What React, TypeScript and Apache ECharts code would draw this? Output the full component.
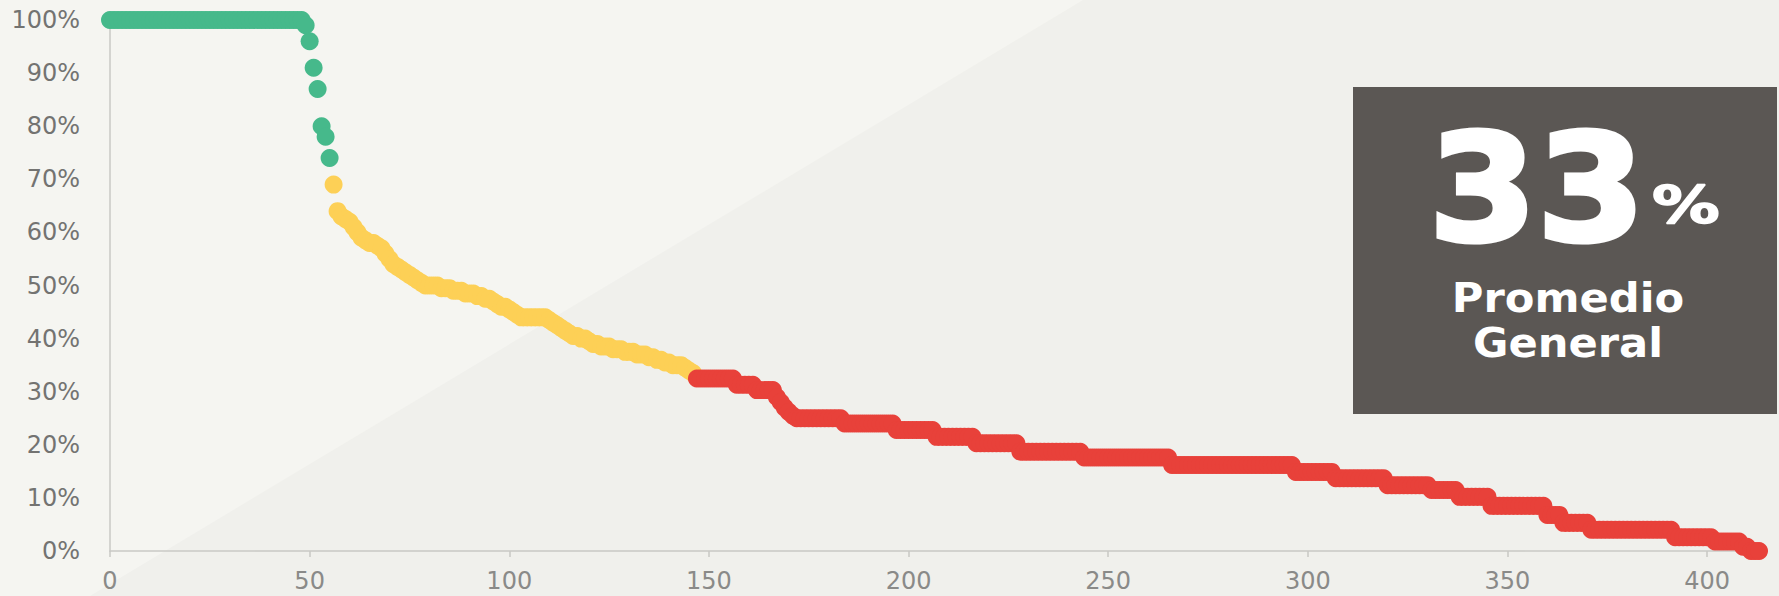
import React, { useEffect, useRef } from "react";
import * as echarts from "echarts";

// ---- Data ----
const xTicks = [0, 50, 100, 150, 200, 250, 300, 350, 400];
const averageValue = "33";
const averageUnit = "%";
const averageTitle = ["Promedio", "General"];

// ranks 0..55 (green)
const greenValues = [
  100, 100, 100, 100, 100, 100, 100, 100, 100, 100,
  100, 100, 100, 100, 100, 100, 100, 100, 100, 100,
  100, 100, 100, 100, 100, 100, 100, 100, 100, 100,
  100, 100, 100, 100, 100, 100, 100, 100, 100, 100,
  100, 100, 100, 100, 100, 100, 100, 100, 100,
  99, 96, 91, 87, 80, 78, 74,
];

// ranks 56..146 (yellow)
const yellowValues = [
  69, 64, 63, 62.5, 62, 61, 60, 59, 58.5, 58,
  58, 57.5, 57, 56, 55, 54, 53.5, 53, 52.5, 52,
  51.5, 51, 50.5, 50, 50, 50, 50, 49.5, 49.5, 49.5,
  49, 49, 49, 48.5, 48.5, 48.5, 48, 48, 47.5, 47.5,
  47, 46.5, 46, 46, 45.5, 45, 44.5, 44, 44, 44,
  44, 44, 44, 44, 43.5, 43, 42.5, 42, 41.5, 41,
  40.5, 40.5, 40, 40, 39.5, 39, 39, 38.5, 38.5, 38.5,
  38, 38, 38, 37.5, 37.5, 37.5, 37, 37, 37, 36.5,
  36.5, 36, 36, 35.5, 35.5, 35, 35, 35, 34.5, 34,
  33.5,
];

// ranks 147..413 (red)
const redValues = [
  32.5, 32.5, 32.5, 32.5, 32.5, 32.5, 32.5, 32.5, 32.5, 32.5,
  31.3, 31.3, 31.3, 31.3, 31.3,
  30.3, 30.3, 30.3, 30.3, 30.3,
  29, 28, 27, 26.2, 25.5,
  25, 25, 25, 25, 25, 25, 25, 25, 25, 25, 25, 25,
  24, 24, 24, 24, 24, 24, 24, 24, 24, 24, 24, 24, 24,
  22.8, 22.8, 22.8, 22.8, 22.8, 22.8, 22.8, 22.8, 22.8, 22.8,
  21.5, 21.5, 21.5, 21.5, 21.5, 21.5, 21.5, 21.5, 21.5, 21.5,
  20.3, 20.3, 20.3, 20.3, 20.3, 20.3, 20.3, 20.3, 20.3, 20.3, 20.3,
  18.7, 18.7, 18.7, 18.7, 18.7, 18.7, 18.7, 18.7, 18.7, 18.7, 18.7, 18.7, 18.7, 18.7, 18.7, 18.7,
  17.6, 17.6, 17.6, 17.6, 17.6, 17.6, 17.6, 17.6, 17.6, 17.6, 17.6,
  17.6, 17.6, 17.6, 17.6, 17.6, 17.6, 17.6, 17.6, 17.6, 17.6, 17.6,
  16.2, 16.2, 16.2, 16.2, 16.2, 16.2, 16.2, 16.2, 16.2, 16.2,
  16.2, 16.2, 16.2, 16.2, 16.2, 16.2, 16.2, 16.2, 16.2, 16.2,
  16.2, 16.2, 16.2, 16.2, 16.2, 16.2, 16.2, 16.2, 16.2, 16.2, 16.2,
  14.9, 14.9, 14.9, 14.9, 14.9, 14.9, 14.9, 14.9, 14.9, 14.9,
  13.7, 13.7, 13.7, 13.7, 13.7, 13.7, 13.7, 13.7, 13.7, 13.7, 13.7, 13.7, 13.7,
  12.4, 12.4, 12.4, 12.4, 12.4, 12.4, 12.4, 12.4, 12.4, 12.4, 12.4,
  11.5, 11.5, 11.5, 11.5, 11.5, 11.5, 11.5,
  10.2, 10.2, 10.2, 10.2, 10.2, 10.2, 10.2, 10.2,
  8.5, 8.5, 8.5, 8.5, 8.5, 8.5, 8.5, 8.5, 8.5, 8.5, 8.5, 8.5, 8.5, 8.5,
  6.8, 6.8, 6.8, 6.8,
  5.3, 5.3, 5.3, 5.3, 5.3, 5.3, 5.3,
  4, 4, 4, 4, 4, 4, 4, 4, 4, 4, 4, 4, 4, 4, 4, 4, 4, 4, 4, 4, 4,
  2.6, 2.6, 2.6, 2.6, 2.6, 2.6, 2.6, 2.6, 2.6, 2.6,
  1.8, 1.8, 1.8, 1.8, 1.8, 1.8, 1.8,
  0.8, 0.8,
  0, 0, 0,
];

const seriesColors = { green: "#46b98b", yellow: "#fdd056", red: "#e8413a" };

function toPoints(values: number[], startRank: number) {
  return values.map((v, k) => [startRank + k, v]);
}

const W = 1779;
const H = 596;
const FONT = "DejaVu Sans";

export default function App() {
  const ref = useRef<HTMLDivElement>(null);

  useEffect(() => {
    if (!ref.current) return;
    const chart = echarts.init(ref.current, undefined, { renderer: "svg" });

    const greenStart = 0;
    const yellowStart = greenStart + greenValues.length;
    const redStart = yellowStart + yellowValues.length;

    const scatter = (name: string, values: number[], start: number, color: string) => ({
      name,
      type: "scatter",
      data: toPoints(values, start),
      symbol: "circle",
      symbolSize: 18,
      itemStyle: { color, opacity: 1 },
      silent: true,
      z: 5,
    });

    chart.setOption({
      animation: false,
      backgroundColor: "#f5f5f1",
      grid: {
        left: 110,
        right: 12,
        top: 20,
        bottom: 45,
        containLabel: false,
        outerBoundsMode: "none",
      },
      xAxis: {
        type: "value",
        min: 0,
        max: 415,
        interval: 50,
        splitLine: { show: false },
        axisLine: { show: true, lineStyle: { color: "#c9c9c5", width: 1.5 } },
        axisTick: {
          show: true,
          length: 6,
          customValues: xTicks,
          lineStyle: { color: "#c9c9c5", width: 1.5 },
        },
        axisLabel: {
          customValues: xTicks,
          fontSize: 24,
          color: "#8a8a88",
          margin: 18,
          fontFamily: FONT,
        },
      },
      yAxis: {
        type: "value",
        min: 0,
        max: 100,
        interval: 10,
        splitLine: { show: false },
        axisLine: { show: true, lineStyle: { color: "#c9c9c5", width: 1.5 } },
        axisTick: { show: false },
        axisLabel: {
          formatter: "{value}%",
          fontSize: 24,
          color: "#737371",
          margin: 30,
          fontFamily: FONT,
        },
      },
      graphic: [
        {
          type: "polygon",
          z: -100,
          silent: true,
          shape: { points: [[90, H], [1083, 0], [W, 0], [W, H]] },
          style: { fill: "#f0f0ec" },
        },
        {
          type: "rect",
          z: 100,
          silent: true,
          shape: { x: 1353, y: 87, width: 424, height: 327 },
          style: { fill: "#5b5754" },
        },
        {
          type: "text",
          z: 101,
          silent: true,
          x: 1645,
          y: 189,
          scaleX: 1.05,
          style: {
            text: averageValue,
            fill: "#ffffff",
            stroke: "#ffffff",
            lineWidth: 5,
            fontFamily: FONT,
            fontWeight: "bold",
            fontSize: 148,
            align: "right",
            verticalAlign: "middle",
          },
        },
        {
          type: "text",
          z: 101,
          silent: true,
          x: 1652,
          y: 205,
          scaleX: 1.3,
          style: {
            text: averageUnit,
            fill: "#ffffff",
            stroke: "#ffffff",
            lineWidth: 1.5,
            fontFamily: FONT,
            fontWeight: "bold",
            fontSize: 52,
            align: "left",
            verticalAlign: "middle",
          },
        },
        {
          type: "text",
          z: 101,
          silent: true,
          x: 1568,
          y: 298,
          scaleX: 1.08,
          style: {
            text: averageTitle[0],
            fill: "#ffffff",
            fontFamily: FONT,
            fontWeight: "bold",
            fontSize: 40,
            align: "center",
            verticalAlign: "middle",
          },
        },
        {
          type: "text",
          z: 101,
          silent: true,
          x: 1568,
          y: 343,
          scaleX: 1.08,
          style: {
            text: averageTitle[1],
            fill: "#ffffff",
            fontFamily: FONT,
            fontWeight: "bold",
            fontSize: 40,
            align: "center",
            verticalAlign: "middle",
          },
        },
      ],
      series: [
        scatter("Alto", greenValues, greenStart, seriesColors.green),
        scatter("Medio", yellowValues, yellowStart, seriesColors.yellow),
        scatter("Bajo", redValues, redStart, seriesColors.red),
      ],
    });

    return () => chart.dispose();
  }, []);

  return (
    <div
      ref={ref}
      style={{ position: "fixed", left: 0, top: 0, width: W, height: H }}
    />
  );
}
